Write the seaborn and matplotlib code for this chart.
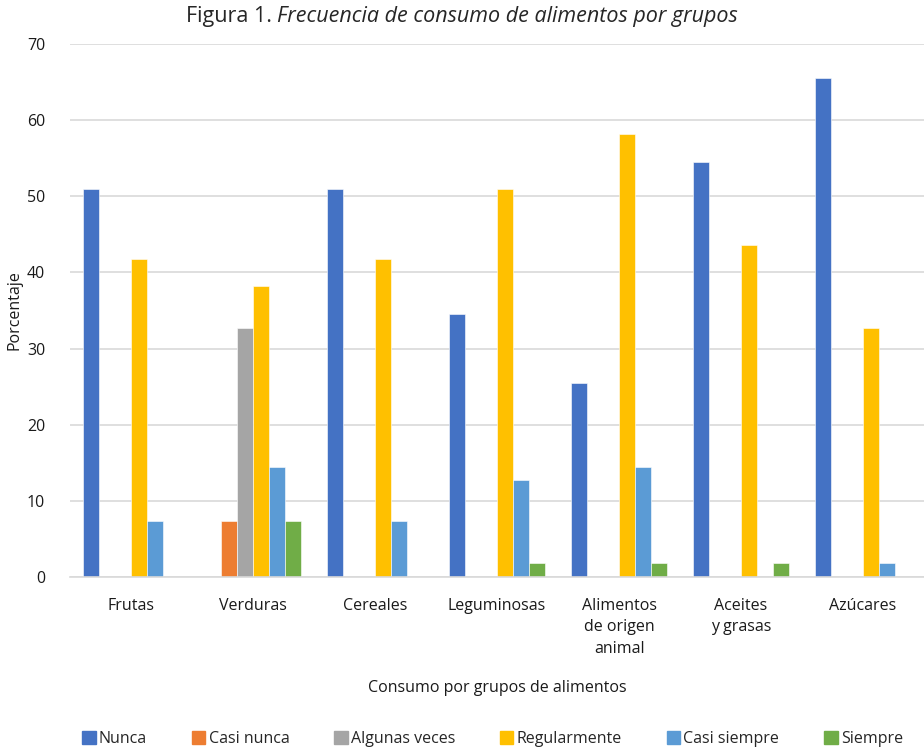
import pandas as pd
import seaborn as sns
import matplotlib.pyplot as plt

grupos = ['Frutas', 'Verduras', 'Cereales', 'Leguminosas',
          'Alimentos\nde origen\nanimal', 'Aceites\ny grasas', 'Azúcares']
frecuencias = ['Nunca', 'Casi nunca', 'Algunas veces', 'Regularmente', 'Casi siempre', 'Siempre']

nunca = [50.9, 0, 50.9, 34.5, 25.5, 54.5, 65.5]
casi_nunca = [0, 7.3, 0, 0, 0, 0, 0]
algunas_veces = [0, 32.7, 0, 0, 0, 0, 0]
regularmente = [41.8, 38.2, 41.8, 50.9, 58.2, 43.6, 32.7]
casi_siempre = [7.3, 14.5, 7.3, 12.7, 14.5, 0, 1.8]
siempre = [0, 7.3, 0, 1.8, 1.8, 1.8, 0]

colores = ['#4472C4', '#ED7D31', '#A5A5A5', '#FFC000', '#5B9BD5', '#70AD47']

series = [nunca, casi_nunca, algunas_veces, regularmente, casi_siempre, siempre]
filas = []
for f, vals in zip(frecuencias, series):
    for g, v in zip(grupos, vals):
        filas.append({'grupo': g, 'frecuencia': f, 'pct': v})
df = pd.DataFrame(filas)

sns.set_style('white')
plt.rcParams['font.family'] = ['Open Sans', 'DejaVu Sans']

fig = plt.figure(figsize=(9.24, 7.52), dpi=100)
ax = fig.add_axes([0.076, 0.2327, 0.924, 0.7088])

sns.barplot(data=df, x='grupo', y='pct', hue='frecuencia', order=grupos,
            hue_order=frecuencias, palette=colores, saturation=1, width=0.79,
            edgecolor='white', linewidth=0.4, ax=ax, legend=False)

ax.set_ylim(0, 70)
ax.set_yticks(range(0, 71, 10))
ax.set_xlim(-0.5, 6.5)
ax.yaxis.grid(True, color='#d9d9d9', linewidth=1.2)
ax.set_axisbelow(True)
for s in ['top', 'right', 'left']:
    ax.spines[s].set_visible(False)
ax.spines['bottom'].set_color('#d9d9d9')
ax.spines['bottom'].set_linewidth(1.2)

ax.tick_params(axis='y', length=0, labelsize=11.5, pad=18, labelcolor='#1a1a1a')
ax.tick_params(axis='x', length=0, labelsize=11.5, pad=15, labelcolor='#1a1a1a')
for lbl in ax.get_xticklabels():
    lbl.set_linespacing(1.45)
ax.set_xticks([0.5, 1.5, 2.5, 3.5, 4.5, 5.5], minor=True)
ax.tick_params(axis='x', which='minor', length=9, width=1.2, color='#d9d9d9')

ax.set_xlabel('Consumo por grupos de alimentos', fontsize=11.5, labelpad=17, color='#1a1a1a')
ax.set_ylabel('Porcentaje', fontsize=11.5, color='#1a1a1a')
ax.yaxis.set_label_coords(-0.056, 0.5)

# leyenda
handles = [plt.Rectangle((0, 0), 1, 1, color=c) for c in colores]
fig.legend(handles, frecuencias, loc='center', bbox_to_anchor=(0.533, 0.017), ncol=6,
           frameon=False, fontsize=11.5, handlelength=0.85, handleheight=0.85,
           handletextpad=0.2, columnspacing=2.8, borderaxespad=0)

# título con parte en cursiva
t1 = fig.text(0, 0.978, 'Figura 1. ', fontsize=15.5, va='center', ha='left')
t2 = fig.text(0, 0.978, 'Frecuencia de consumo de alimentos por grupos', fontsize=15.5,
              style='italic', va='center', ha='left')
fig.canvas.draw()
r = fig.canvas.get_renderer()
w1 = t1.get_window_extent(r).width / fig.bbox.width
w2 = t2.get_window_extent(r).width / fig.bbox.width
x0 = 0.5 - (w1 + w2) / 2
t1.set_x(x0)
t2.set_x(x0 + w1)

fig.savefig('out.png', dpi=100)
